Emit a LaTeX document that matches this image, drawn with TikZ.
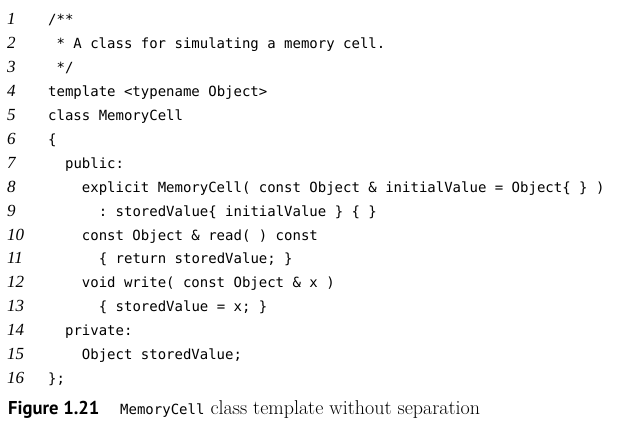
\documentclass[tikz,border=0pt]{standalone}
\usepackage{fontspec}
\usepackage{xcolor}
\setmonofont{DejaVu Sans Mono}
\newfontfamily\figfont{PT Sans}
\newfontfamily\numfont{Liberation Serif}
\usetikzlibrary{positioning}

\begin{document}
\begin{tikzpicture}[
                x=1pt, y=1pt,
                lnum/.style={anchor=base west, inner sep=0pt, font=\fontsize{17}{17}\numfont\itshape},
                code/.style={anchor=base west, inner sep=0pt, font=\fontsize{14}{14}\selectfont\ttfamily},
                captext/.style={anchor=base west, inner sep=0pt, font=\fontsize{20}{20}\selectfont}
            ]
                \useasboundingbox (0,0) rectangle (627,-438);

                % Line numbers
                \node[lnum] (n1) at (7, -25) {1};
                \node[lnum] (n2) at (7, -48.9) {2};
                \node[lnum] (n3) at (7, -72.8) {3};
                \node[lnum] (n4) at (7, -96.7) {4};
                \node[lnum] (n5) at (7, -120.6) {5};
                \node[lnum] (n6) at (7, -144.5) {6};
                \node[lnum] (n7) at (7, -168.4) {7};
                \node[lnum] (n8) at (7, -192.3) {8};
                \node[lnum] (n9) at (7, -216.2) {9};
                \node[lnum] (n10) at (7, -240.1) {10};
                \node[lnum] (n11) at (7, -264) {11};
                \node[lnum] (n12) at (7, -287.9) {12};
                \node[lnum] (n13) at (7, -311.8) {13};
                \node[lnum] (n14) at (7, -335.7) {14};
                \node[lnum] (n15) at (7, -359.6) {15};
                \node[lnum] (n16) at (7, -383.5) {16};

                % Code
                \node[code] (c1) at (48, -25) {/**};
                \node[code] (c2) at (56.4, -48.9) {* A class for simulating a memory cell.};
                \node[code] (c3) at (56.4, -72.8) {*/};
                \node[code] (c4) at (48, -96.7) {template <typename Object>};
                \node[code] (c5) at (48, -120.6) {class MemoryCell};
                \node[code] (c6) at (48, -144.5) {\{};
                \node[code] (c7) at (64.9, -168.4) {public:};
                \node[code] (c8) at (81.7, -192.3) {explicit MemoryCell( const Object \& initialValue = Object\{ \} )};
                \node[code] (c9) at (98.6, -216.2) {: storedValue\{ initialValue \} \{ \}};
                \node[code] (c10) at (81.7, -240.1) {const Object \& read( ) const};
                \node[code] (c11) at (98.6, -264) {\{ return storedValue; \}};
                \node[code] (c12) at (81.7, -287.9) {void write( const Object \& x )};
                \node[code] (c13) at (98.6, -311.8) {\{ storedValue = x; \}};
                \node[code] (c14) at (64.9, -335.7) {private:};
                \node[code] (c15) at (81.7, -359.6) {Object storedValue;};
                \node[code] (c16) at (48, -383.5) {\};};

                % Caption
                \node[captext, font=\fontsize{18.6}{18.6}\figfont\bfseries] (tag) at (8, -414) {Figure 1.21};
                \node[captext] (title) at (120, -414) {{\fontsize{14}{14}\selectfont\ttfamily MemoryCell} class template without separation};
            \end{tikzpicture}
\end{document}
